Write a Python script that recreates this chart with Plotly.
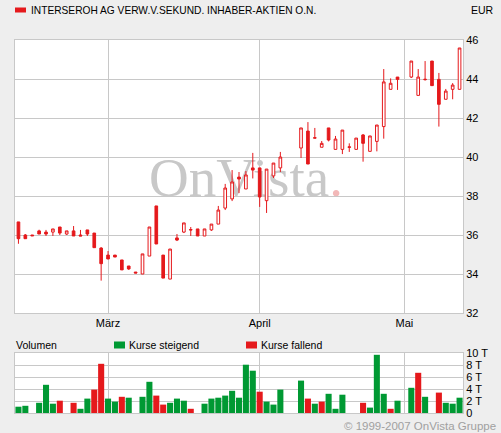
import plotly.graph_objects as go

# ---------------- data ----------------
title_text = "INTERSEROH AG VERW.V.SEKUND. INHABER-AKTIEN O.N."
currency = "EUR"

dates = [
    "2007-02-12", "2007-02-13", "2007-02-14", "2007-02-15", "2007-02-16",
    "2007-02-19", "2007-02-20", "2007-02-21", "2007-02-22", "2007-02-23",
    "2007-02-26", "2007-02-27", "2007-02-28", "2007-03-01", "2007-03-02",
    "2007-03-05", "2007-03-06", "2007-03-07", "2007-03-08", "2007-03-09",
    "2007-03-12", "2007-03-13", "2007-03-14", "2007-03-15", "2007-03-16",
    "2007-03-19", "2007-03-20", "2007-03-21", "2007-03-22", "2007-03-23",
    "2007-03-26", "2007-03-27", "2007-03-28", "2007-03-29", "2007-03-30",
    "2007-04-02", "2007-04-03", "2007-04-04", "2007-04-05",
    "2007-04-10", "2007-04-11", "2007-04-12", "2007-04-13",
    "2007-04-16", "2007-04-17", "2007-04-18", "2007-04-19", "2007-04-20",
    "2007-04-23", "2007-04-24", "2007-04-25", "2007-04-26", "2007-04-27",
    "2007-04-30",
    "2007-05-02", "2007-05-03", "2007-05-04",
    "2007-05-07", "2007-05-08", "2007-05-09", "2007-05-10", "2007-05-11",
]

open_ = [
    36.67, 36.00, 36.00, 36.21, 36.15,
    36.15, 36.41, 36.05, 36.21, 36.00,
    36.26, 36.10, 35.33, 34.97, 34.97,
    34.72, 34.41, 34.10, 34.00, 34.92,
    37.49, 34.97, 33.74, 35.85, 36.15,
    36.28, 36.31, 35.95, 36.26, 36.56,
    37.38, 37.85, 38.97, 38.36, 39.44,
    39.44, 37.76, 39.03, 39.44,
    40.46, 41.33, 40.99, 40.50,
    41.49, 40.39, 40.39, 40.52, 40.39,
    41.13, 40.29, 40.80, 41.56, 43.47,
    44.10,
    44.10, 43.16, 43.99,
    44.92, 43.98, 42.96, 43.47, 43.47,
]
high = [
    36.67, 36.05, 36.00, 36.27, 36.26,
    36.31, 36.41, 36.21, 36.46, 36.26,
    36.26, 36.10, 35.38, 35.18, 34.97,
    34.72, 34.41, 34.10, 35.03, 36.41,
    37.49, 34.97, 35.28, 36.05, 36.62,
    36.41, 36.31, 36.31, 36.56, 37.49,
    38.62, 39.33, 39.23, 39.28, 40.21,
    39.44, 39.38, 39.69, 40.26,
    41.49, 41.79, 41.49, 40.82,
    41.49, 41.08, 41.38, 40.70, 40.97,
    41.18, 41.08, 41.64, 44.51, 44.03,
    44.10,
    44.92, 44.51, 44.92,
    44.92, 44.31, 43.49, 43.79, 45.59,
]
low = [
    35.55, 35.81, 35.96, 36.05, 35.95,
    35.95, 36.00, 36.00, 35.95, 35.95,
    35.95, 35.35, 33.66, 34.77, 34.87,
    34.21, 34.21, 34.05, 34.00, 34.92,
    35.54, 33.79, 33.74, 35.69, 36.10,
    35.95, 35.95, 35.95, 36.21, 36.56,
    37.28, 37.74, 38.15, 38.36, 38.90,
    37.44, 37.13, 38.92, 39.23,
    39.95, 39.64, 40.97, 40.50,
    40.80, 40.39, 40.15, 40.26, 40.39,
    39.76, 40.29, 40.29, 40.94, 43.47,
    43.44,
    44.05, 43.16, 43.92,
    43.66, 41.56, 42.96, 42.96, 43.47,
]
close = [
    35.81, 35.81, 35.96, 36.05, 36.05,
    36.31, 36.10, 36.21, 35.95, 35.95,
    36.05, 35.35, 34.53, 34.77, 34.87,
    34.21, 34.26, 34.05, 35.03, 36.41,
    35.54, 33.79, 35.28, 35.74, 36.62,
    36.26, 35.95, 36.31, 36.56, 37.28,
    38.41, 38.72, 38.87, 39.08, 39.33,
    37.95, 39.38, 39.69, 40.00,
    41.49, 39.64, 40.97, 40.70,
    40.87, 40.92, 41.38, 40.50, 40.97,
    40.70, 41.08, 41.64, 43.85, 43.78,
    43.98,
    44.92, 44.10, 43.97,
    43.66, 42.70, 43.38, 43.69, 45.59,
]

# volume in shares, split by direction (None = no turnover reported)
vol_rising = [
    1050, 1200, None, 1700, 4700,
    1550, None, None, None, 700,
    2400, None, None, 2400, 1900,
    None, 2550, None, 2700, 5200,
    None, None, 1700, 2400, 2050,
    None, None, 1550, 2400, 2550,
    2900, 3700, 2550, 8050, 7050,
    None, 1900, 1400, 3900,
    5400, None, 1550, None,
    3200, 700, 3050, None, None,
    None, 900, 9700, 3200, None,
    2050,
    4200, None, 2700,
    None, None, 1700, 1550, 2550,
]
vol_falling = [
    None, None, None, None, None,
    None, 2050, None, 1700, None,
    None, 3900, 8200, None, None,
    2700, None, None, None, None,
    2900, 1400, None, None, None,
    700, None, None, None, None,
    None, None, None, None, None,
    3550, None, None, None,
    None, 2400, None, 1900,
    None, None, None, None, None,
    1700, None, None, None, 700,
    None,
    None, 6700, None,
    None, 3400, None, None, None,
]

month_ticks = ["2007-03-01", "2007-04-02", "2007-05-01"]
month_labels = ["März", "April", "Mai"]
price_ticks = [32, 34, 36, 38, 40, 42, 44, 46]
vol_ticks = [0, 2000, 4000, 6000, 8000, 10000]
vol_labels = ["0", "2 T", "4 T", "6 T", "8 T", "10 T"]

name_vol = "Volumen"
name_up = "Kurse steigend"
name_down = "Kurse fallend"
watermark = "OnVista"
copyright_text = "© 1999-2007 OnVista Gruppe"

# ---------------- styling ----------------
W, H = 501, 433
RED = "#E5191C"
GREEN = "#009933"
GRID = "#C8C8C8"
FONT = "Liberation Sans"


def px(x):
    return x / W


def py(y):
    return 1 - y / H


xs = [d + " 12:00" for d in dates]
tick_x = [d + " 12:00" for d in month_ticks]

fig = go.Figure()

fig.add_trace(go.Candlestick(
    x=xs, open=open_, high=high, low=low, close=close,
    xaxis="x", yaxis="y",
    increasing=dict(line=dict(color=RED, width=1), fillcolor="#FFFFFF"),
    decreasing=dict(line=dict(color=RED, width=1), fillcolor=RED),
    whiskerwidth=0, showlegend=False, hoverinfo="skip",
))

fig.add_trace(go.Bar(x=xs, y=vol_rising, name=name_up, marker_color=GREEN,
                     marker_line_width=0, xaxis="x2", yaxis="y2", showlegend=False))
fig.add_trace(go.Bar(x=xs, y=vol_falling, name=name_down, marker_color=RED,
                     marker_line_width=0, xaxis="x2", yaxis="y2", showlegend=False))

x_range = ["2007-02-12 00:00", "2007-05-11 23:59"]
xdom = [px(15), px(463)]
common_x = dict(
    type="date", range=x_range, domain=xdom,
    rangebreaks=[dict(bounds=["sat", "mon"])],
    tickvals=tick_x, ticktext=month_labels,
    showgrid=True, gridcolor=GRID, gridwidth=1,
    showline=True, linecolor=GRID, linewidth=1, mirror=True,
    ticks="", zeroline=False, fixedrange=True, automargin=False,
    tickfont=dict(family=FONT, size=11, color="#000000"),
)

fig.update_layout(
    template="none",
    width=W, height=H, autosize=False,
    margin=dict(l=0, r=0, t=0, b=0, pad=0, autoexpand=False),
    paper_bgcolor="#EEEEEE", plot_bgcolor="#FFFFFF",
    font=dict(family=FONT, size=11, color="#000000"),
    barmode="overlay", bargap=0.12, boxgap=0.45,
    xaxis=dict(**common_x, anchor="y", rangeslider=dict(visible=False)),
    xaxis2=dict(**common_x, anchor="y2", showticklabels=False, matches="x"),
    yaxis=dict(domain=[py(313), py(40)], range=[32, 46], tickvals=price_ticks,
               side="right", showgrid=True, gridcolor=GRID, gridwidth=1,
               showline=True, linecolor=GRID, mirror=True, ticks="",
               zeroline=False, fixedrange=True, anchor="x", automargin=False,
               ticklabeloverflow="allow",
               tickfont=dict(family=FONT, size=11, color="#000000")),
    yaxis2=dict(domain=[py(413), py(353)], range=[0, 10000], tickvals=vol_ticks,
                ticktext=vol_labels, side="right", showgrid=True, gridcolor=GRID,
                gridwidth=1, showline=True, linecolor=GRID, mirror=True, ticks="",
                zeroline=False, fixedrange=True, anchor="x2", automargin=False,
                ticklabeloverflow="allow",
                tickfont=dict(family=FONT, size=11, color="#000000")),
    showlegend=False,
)

shapes = [
    # watermark behind candles
    dict(type="rect", xref="paper", yref="paper", layer="below",
         x0=px(144), x1=px(348), y0=py(200), y1=py(142),
         line=dict(width=0), fillcolor="rgba(0,0,0,0)",
         label=dict(text=watermark + "<span style='color:#F2B8B8'>.</span>",
                    textposition="middle center",
                    font=dict(family="Liberation Serif", size=55, color="#C8C8C8"))),
    # title marker
    dict(type="rect", xref="paper", yref="paper", x0=px(15), x1=px(26),
         y0=py(12.5), y1=py(7.5), line=dict(width=0), fillcolor=RED),
    # legend markers
    dict(type="rect", xref="paper", yref="paper", x0=px(114), x1=px(125),
         y0=py(348.5), y1=py(341.5), line=dict(width=0), fillcolor=GREEN),
    dict(type="rect", xref="paper", yref="paper", x0=px(246), x1=px(257),
         y0=py(348.5), y1=py(341.5), line=dict(width=0), fillcolor=RED),
]
fig.update_layout(shapes=shapes)

ann = [
    dict(text=title_text, x=px(29), y=py(10), xanchor="left", yanchor="middle",
         font=dict(family=FONT, size=10.2, color="#000000")),
    dict(text=currency, x=px(496), y=py(10), xanchor="right", yanchor="middle",
         font=dict(family=FONT, size=10.5, color="#000000")),
    dict(text=name_vol, x=px(14), y=py(345), xanchor="left", yanchor="middle"),
    dict(text=name_up, x=px(127), y=py(345), xanchor="left", yanchor="middle"),
    dict(text=name_down, x=px(259), y=py(345), xanchor="left", yanchor="middle"),
    dict(text=copyright_text, x=px(498), y=py(426), xanchor="right", yanchor="middle",
         font=dict(family=FONT, size=11.5, color="#A0A0A0")),
]
for a in ann:
    a.update(xref="paper", yref="paper", showarrow=False)
    a.setdefault("font", dict(family=FONT, size=10.5, color="#000000"))
fig.update_layout(annotations=ann)

fig.write_html("out.html", config={"displayModeBar": False},
               post_script="document.body.style.margin='0';")
